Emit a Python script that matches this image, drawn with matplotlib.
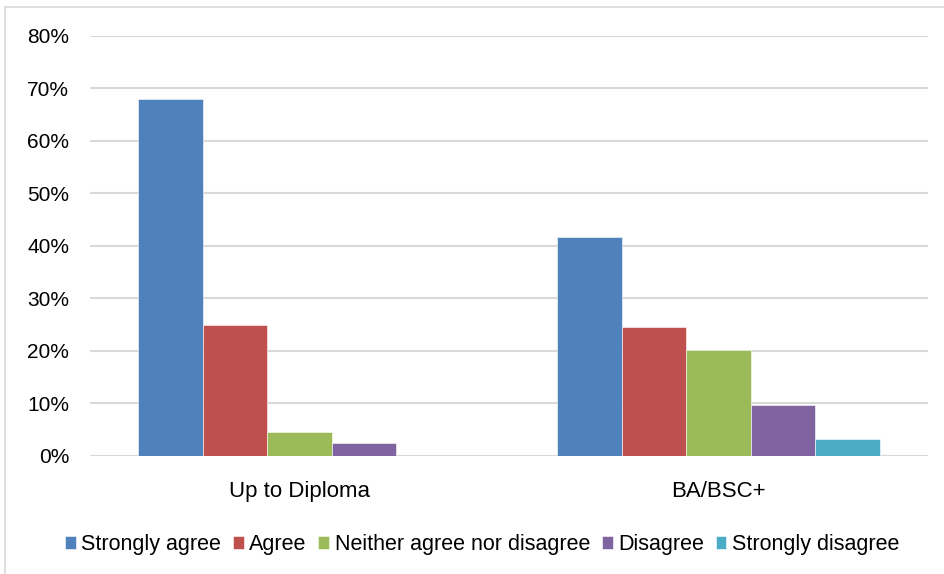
import matplotlib
matplotlib.use("Agg")
import matplotlib.pyplot as plt
from matplotlib.lines import Line2D
from matplotlib.ticker import PercentFormatter
import numpy as np

categories = ["Up to Diploma", "BA/BSC+"]
responses = ["Strongly agree", "Agree", "Neither agree nor disagree", "Disagree", "Strongly disagree"]
up_to_diploma = [68.0, 25.0, 4.6, 2.5, 0.0]
ba_bsc = [41.8, 24.6, 20.2, 9.7, 3.2]
colors = ["#4F81BD", "#C0504D", "#9BBB59", "#8064A2", "#4BACC6"]

plt.rcParams["font.family"] = ["Liberation Sans", "DejaVu Sans"]

fig = plt.figure(figsize=(9.44, 5.74), dpi=100)
ax = fig.add_axes([0.0953, 0.2056, 0.8877, 0.7317])

x = np.arange(len(categories))
w = 0.154
vals = np.array([up_to_diploma, ba_bsc])
for i, (name, c) in enumerate(zip(responses, colors)):
    ax.bar(x + (i - 2) * w, vals[:, i], width=w, color=c, label=name,
           edgecolor="white", linewidth=0.4, zorder=3)

ax.set_xlim(-0.5, 1.5)
ax.set_ylim(0, 80)
ax.set_yticks(range(0, 81, 10))
ax.yaxis.set_major_formatter(PercentFormatter(decimals=0))
ax.set_xticks(x)
ax.set_xticklabels(categories, fontsize=16)
ax.grid(axis="y", color="#D9D9D9", linewidth=1.5, zorder=0)
for s in ax.spines.values():
    s.set_visible(False)
ax.tick_params(length=0, colors="#000000")
ax.tick_params(axis="y", labelsize=15, pad=15)
ax.tick_params(axis="x", pad=18)

ax.legend(loc="upper center", bbox_to_anchor=(0.468, -0.14), ncol=5, frameon=False,
          fontsize=15.5, handlelength=0.5, handleheight=0.5, handletextpad=0.25,
          columnspacing=0.55)

# light chart border (left/top edges visible)
fig.add_artist(Line2D([5 / 944, 5 / 944], [0, 1 - 7 / 574], color="#D9D9D9", lw=1.2))
fig.add_artist(Line2D([5 / 944, 1], [1 - 7 / 574, 1 - 7 / 574], color="#D9D9D9", lw=1.2))

fig.savefig("out.png", dpi=100)
